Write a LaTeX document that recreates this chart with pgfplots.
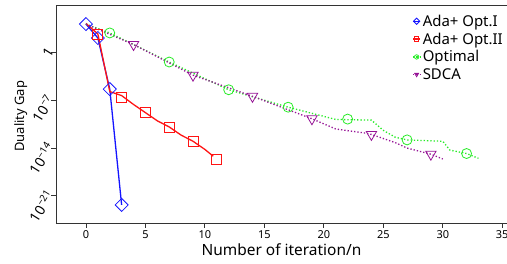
\documentclass[border=0pt]{standalone}
\usepackage{fontspec}
\setmainfont{Noto Sans}
\usepackage{pgfplots}
\pgfplotsset{compat=1.18}
\definecolor{cblue}{RGB}{20,20,255}
\definecolor{cred}{RGB}{255,20,20}
\definecolor{cgreen}{RGB}{40,235,40}
\definecolor{cpurple}{RGB}{150,20,150}
\begin{document}
\begin{tikzpicture}
\begin{axis}[
  scale only axis, width=451bp, height=218bp,
  xmin=-2.52, xmax=35.4,
  ymode=log, ymin=1e-25, ymax=1e7,
  axis x line=box, axis y line=left,
  axis line style={-, line width=0.9bp, draw=black!80},
  xtick={0,5,...,35}, xtick pos=bottom, xtick align=outside, ytick align=outside,
  major tick length=4.5bp, xtick style={line width=0.9bp, draw=black!80},
  xticklabel style={font=\fontsize{11}{13}\selectfont},
  /pgf/number format/assume math mode=true,
  ytick={1e-21,1e-14,1e-7,1},
  yticklabels={10\textsuperscript{−21},10\textsuperscript{−14},10\textsuperscript{−7},1},
  ytick style={line width=0.7bp, draw=black!80}, minor ytick={},
  yticklabel style={rotate=58, anchor=east, inner sep=1bp, yshift=3bp, xshift=4bp, font=\fontsize{14}{16}\selectfont},
  xlabel={Number of iteration/n},
  xlabel style={at={(axis description cs:0.5,-0.151)}, anchor=base, font=\fontsize{15.5}{18}\selectfont},
  ylabel={Duality Gap},
  ylabel style={at={(axis description cs:-0.078,0.49)}, anchor=center, rotate=0, font=\fontsize{13}{16}\selectfont},
  legend style={draw=none, fill=none, at={(axis description cs:0.79,0.965)}, anchor=north west,
    font=\fontsize{15}{18}\selectfont, row sep=1bp, inner sep=0pt},
  legend cell align=left,
  legend image code/.code={\draw[mark size=2.2bp, mark repeat=2, mark phase=2] plot coordinates {(0bp,0bp)(3.5bp,0bp)(7bp,0bp)};},
]
\coordinate (bl) at (rel axis cs:0,0);
% Ada+ Opt.I
\addplot[cblue, line width=1.3bp, mark=square, mark size=4.6bp, mark options={solid, line width=0.8bp, rotate=45}]
 coordinates {(0,1.58e4)(1,1.45e2)(2,4.57e-6)(3,4.47e-23)};
\addlegendentry{Ada+ Opt.I}
% Ada+ Opt.II line
\addplot[cred, line width=1.3bp, forget plot] coordinates {
 (0,2.0e4)(1,5.62e2)(2,2.0e-6)(3,5.0e-7)(4,2.51e-8)(5,1.58e-9)(6,1e-10)(7,1.26e-11)(8,7.94e-13)(9,1e-13)(10,6.31e-15)(10.7,6.3e-16)};
\addplot[cred, only marks, mark=square, mark size=5bp, mark options={line width=0.8bp}, forget plot] coordinates {
 (1,5.62e2)(3,3.2e-7)(5,1.58e-9)(7,1.26e-11)(9,1e-13)(11,2.51e-16)};
\addlegendimage{cred, line width=1.3bp, mark=square, mark options={line width=0.8bp}}
\addlegendentry{Ada+ Opt.II}
% Optimal
\addplot[cgreen, line width=1.3bp, dotted, forget plot] coordinates {
 (0,1.58e4)(2,7.94e2)(7,4.27e-2)(12,3.63e-6)(17,1e-8)(19,1.26e-9)(21,1.58e-10)(24,1.26e-10)(25,3.98e-12)(26,3.98e-13)(27,1.58e-13)(30,1e-13)(30.6,5.01e-15)(32,1.58e-15)(33,3.16e-16)};
\addplot[cgreen, only marks, mark=o, mark size=5bp, mark options={line width=0.8bp}, forget plot] coordinates {
 (2,7.94e2)(7,4.27e-2)(12,3.63e-6)(17,1e-8)(22,1.78e-10)(27,1.58e-13)(32,1.58e-15)};
\addlegendimage{cgreen, line width=1.3bp, dotted, mark=o, mark options={solid, line width=0.8bp}}
\addlegendentry{Optimal}
% SDCA
\addplot[cpurple, line width=1.3bp, dotted, forget plot] coordinates {
 (0,1.58e4)(4,15.8)(9,5.01e-4)(14,3.98e-7)(19,2.0e-10)(21,6.31e-12)(23.5,1.58e-12)(24,1e-12)(26,6.31e-14)(27,1e-14)(29,1.26e-15)(30,2.51e-16)};
\addplot[cpurple, only marks, mark=triangle, mark size=6bp, mark options={line width=0.8bp, rotate=180}, forget plot] coordinates {
 (4,15.8)(9,5.01e-4)(14,3.98e-7)(19,2.0e-10)(24,1e-12)(29,1.26e-15)};
\addlegendimage{cpurple, line width=1.3bp, dotted, mark=triangle, mark options={solid, line width=0.8bp, rotate=180}}
\addlegendentry{SDCA}
\end{axis}
\pgfresetboundingbox
\path (bl) ++(-56bp,-41bp) rectangle ++(507bp,264bp);
\end{tikzpicture}
\end{document}
